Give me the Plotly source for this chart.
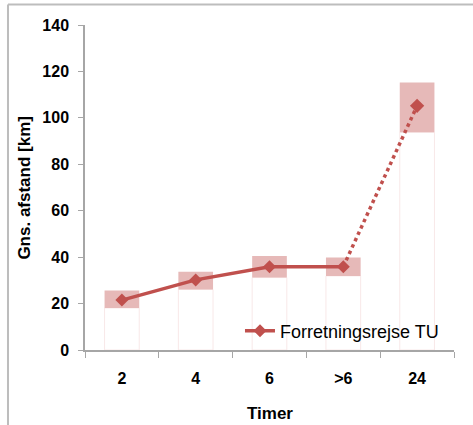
import plotly.graph_objects as go

categories = ["2", "4", "6", ">6", "24"]
values = [21.5, 30.2, 35.9, 35.9, 105.2]
lower = [18.1, 26.1, 31.2, 31.9, 93.8]
upper = [25.6, 33.7, 40.5, 39.9, 115.2]
series_name = "Forretningsrejse TU"
y_ticks = [0, 20, 40, 60, 80, 100, 120, 140]
x_title = "Timer"
y_title = "Gns. afstand [km]"

band = [u - l for u, l in zip(upper, lower)]

fig = go.Figure()
fig.add_trace(go.Bar(x=categories, y=lower, base=0, width=0.47,
                     marker=dict(color="rgba(255,255,255,0)", line=dict(color="#f8e8e8", width=1)),
                     showlegend=False, hoverinfo="skip"))
fig.add_trace(go.Bar(x=categories, y=band, base=lower, width=0.47,
                     marker=dict(color="#e6b9b8", line=dict(width=0)),
                     showlegend=False, hoverinfo="skip"))
fig.add_trace(go.Scatter(x=categories[3:], y=values[3:], mode="lines",
                         line=dict(color="#c0504d", width=3.5, dash="dot"),
                         showlegend=False))
fig.add_trace(go.Scatter(x=categories[:4], y=values[:4], mode="lines+markers",
                         line=dict(color="#c0504d", width=3.5),
                         marker=dict(symbol="diamond", size=10, color="#c0504d"),
                         name=series_name))
fig.add_trace(go.Scatter(x=categories[4:], y=values[4:], mode="markers",
                         marker=dict(symbol="diamond", size=11, color="#c0504d"),
                         showlegend=False))

font_family = "Liberation Sans"
fig.update_layout(
    width=473, height=425,
    margin=dict(l=85, r=19, t=25, b=75, autoexpand=False),
    paper_bgcolor="white", plot_bgcolor="white",
    barmode="overlay",
    showlegend=True,
    legend=dict(x=0.42, y=0.058, xanchor="left", yanchor="middle",
                bgcolor="rgba(0,0,0,0)",
                font=dict(family=font_family, size=18, color="black")),
    xaxis=dict(type="category", categoryorder="array", categoryarray=categories,
               automargin=False,
               showline=True, linecolor="#a6a6a6", linewidth=1.5,
               ticks="outside", tickson="boundaries", ticklen=6, tickcolor="#a6a6a6",
               ticklabelstandoff=13,
               tickfont=dict(family=font_family, size=16, color="black", weight="bold"),
               showgrid=False, zeroline=False),
    yaxis=dict(range=[0, 140], tickvals=y_ticks, automargin=False,
               showline=True, linecolor="#a6a6a6", linewidth=1.5,
               ticks="outside", ticklen=5, tickcolor="#a6a6a6",
               ticklabelstandoff=6,
               tickfont=dict(family=font_family, size=16, color="black", weight="bold"),
               showgrid=False, zeroline=False),
    annotations=[
        dict(text=x_title, xref="paper", yref="paper", x=0.5, y=-0.194,
             xanchor="center", yanchor="middle", showarrow=False,
             font=dict(family=font_family, size=17, color="black", weight="bold")),
        dict(text=y_title, xref="paper", yref="paper", x=-0.165, y=0.5, textangle=-90,
             xanchor="center", yanchor="middle", showarrow=False,
             font=dict(family=font_family, size=17, color="black", weight="bold")),
    ],
    shapes=[
        dict(type="line", xref="paper", yref="paper", x0=-0.2087, x1=-0.2087, y0=-0.25, y1=1.063,
             line=dict(color="#bdbdbd", width=2)),
        dict(type="line", xref="paper", yref="paper", x0=-0.2087, x1=1.06, y0=1.063, y1=1.063,
             line=dict(color="#bdbdbd", width=2)),
    ],
)

fig.write_html("out.html", config={"displayModeBar": False},
               post_script="document.body.style.margin='0px';")
